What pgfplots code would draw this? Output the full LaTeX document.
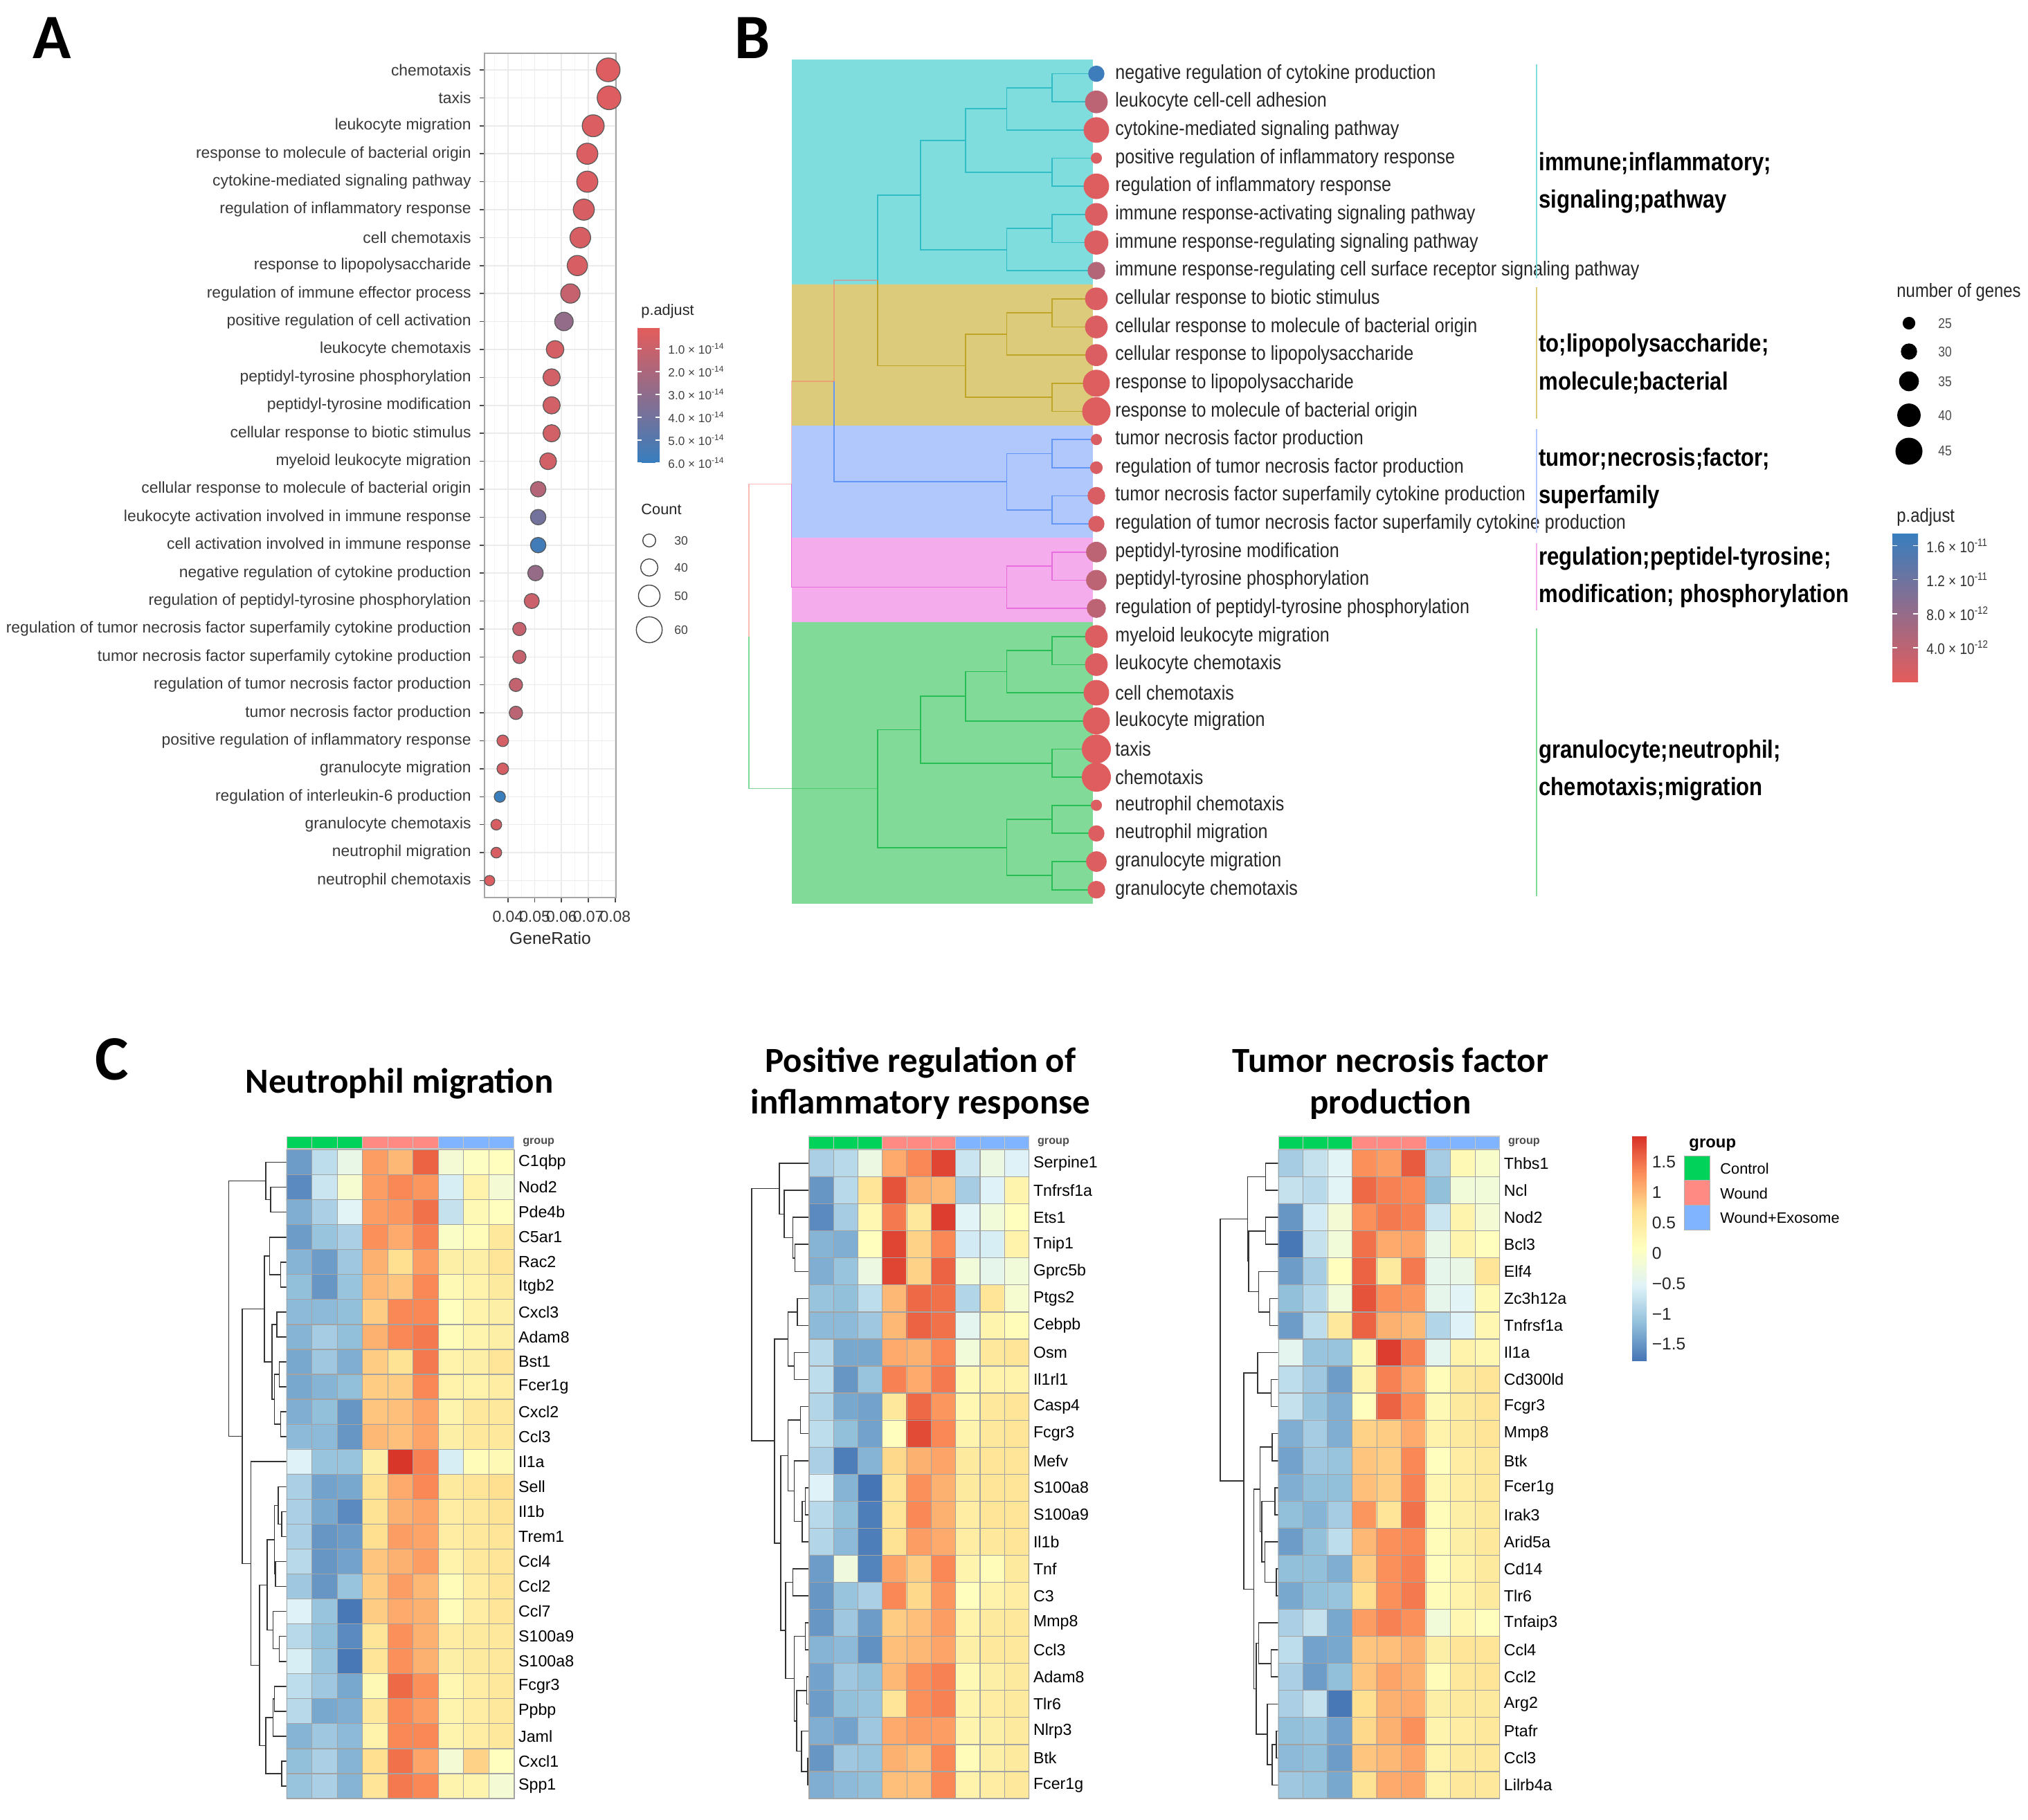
\documentclass[border=0pt]{standalone}
\usepackage{fontspec}
\setmainfont{Liberation Sans}
\newfontfamily\narrow[FakeStretch=0.86]{Liberation Sans}
\newfontfamily\carlito{Carlito}
\usepackage{pgfplots}
\pgfplotsset{compat=1.18}
\usepackage{pgfplotstable}

\definecolor{cyanbox}{RGB}{128,221,222}
\definecolor{khakibox}{RGB}{219,203,122}
\definecolor{bluebox}{RGB}{176,200,252}
\definecolor{pinkbox}{RGB}{245,172,236}
\definecolor{greenbox}{RGB}{130,218,152}
\definecolor{cyanln}{RGB}{50,188,198}
\definecolor{khakiln}{RGB}{190,165,40}
\definecolor{blueln}{RGB}{100,150,245}
\definecolor{pinkln}{RGB}{232,110,222}
\definecolor{greenln}{RGB}{40,190,85}
\definecolor{salmonln}{RGB}{248,118,109}
\definecolor{ctrl}{RGB}{0,210,90}
\definecolor{wound}{RGB}{255,138,132}
\definecolor{wexo}{RGB}{128,180,255}

\newcommand{\fs}[1]{\fontsize{#1}{#1}\selectfont}

\pgfplotsset{
  colormap={padj}{rgb255=(228,92,92) rgb255=(55,126,190)},
  colormap={heat}{rgb255=(69,117,180) rgb255=(145,191,219) rgb255=(224,243,248) rgb255=(255,255,191) rgb255=(254,224,144) rgb255=(252,141,89) rgb255=(215,48,39)},
  dendro/.style={gray!40!black, line width=0.45pt},
  heatax/.style={anchor=north west, scale only axis, height=9.375cm,
    xmin=0.5, xmax=9.5, ymin=0.5, y dir=reverse,
    xtick={1.5,2.5,...,8.5}, xticklabel=\empty, xmajorgrids, yminorgrids,
    major grid style={gray!72, line width=0.35pt},
    minor grid style={gray!72, line width=0.35pt},
    major tick length=0pt, minor tick length=0pt,
    axis line style={gray!72, line width=0.35pt}, axis on top,
    colormap name=heat, point meta min=-1.775, point meta max=1.936,
    yticklabel pos=right, yticklabel style={font=\fs{6.6}, inner sep=1.6pt},
    clip=false},
  dendax/.style={anchor=north west, scale only axis, width=0.857cm, height=9.375cm,
    ymin=0.5, y dir=reverse, hide axis, clip=false},
  cbhelper/.style={hide axis, scale only axis, width=1pt, height=1pt, colorbar,
    colorbar shift/.style={}},
}

\newcommand{\gcell}[5]{\addplot[fill=#1, draw=gray!45, line width=0.3pt] coordinates {(#2,#4) (#3,#4) (#3,#5) (#2,#5)} --cycle;}
\newcommand{\gbar}[2]{%
  \gcell{ctrl}{0.5}{1.5}{#1}{#2}\gcell{ctrl}{1.5}{2.5}{#1}{#2}\gcell{ctrl}{2.5}{3.5}{#1}{#2}%
  \gcell{wound}{3.5}{4.5}{#1}{#2}\gcell{wound}{4.5}{5.5}{#1}{#2}\gcell{wound}{5.5}{6.5}{#1}{#2}%
  \gcell{wexo}{6.5}{7.5}{#1}{#2}\gcell{wexo}{7.5}{8.5}{#1}{#2}\gcell{wexo}{8.5}{9.5}{#1}{#2}}

\begin{document}
\begin{tikzpicture}
\path[use as bounding box] (0,0) rectangle (29.3cm,-26.3cm);

%================ PANEL A =================
\begin{axis}[
  at={(7.00cm,-0.767cm)}, anchor=north west,
  scale only axis, width=1.90cm, height=12.20cm,
  xmin=0.0313, xmax=0.0803, ymin=0.4, ymax=30.6, y dir=reverse,
  scaled x ticks=false,
  xtick={0.04,0.05,0.06,0.07,0.08},
  xticklabels={0.04,0.05,0.06,0.07,0.08},
  minor xtick={0.035,0.045,0.055,0.065,0.075},
  ytick={1,...,30},
  yticklabels={chemotaxis, taxis, leukocyte migration, response to molecule of bacterial origin, cytokine-mediated signaling pathway, regulation of inflammatory response, cell chemotaxis, response to lipopolysaccharide, regulation of immune effector process, positive regulation of cell activation, leukocyte chemotaxis, peptidyl-tyrosine phosphorylation, peptidyl-tyrosine modification, cellular response to biotic stimulus, myeloid leukocyte migration, cellular response to molecule of bacterial origin, leukocyte activation involved in immune response, cell activation involved in immune response, negative regulation of cytokine production, regulation of peptidyl-tyrosine phosphorylation, regulation of tumor necrosis factor superfamily cytokine production, tumor necrosis factor superfamily cytokine production, regulation of tumor necrosis factor production, tumor necrosis factor production, positive regulation of inflammatory response, granulocyte migration, regulation of interleukin-6 production, granulocyte chemotaxis, neutrophil migration, neutrophil chemotaxis},
  grid=both, major grid style={gray!16, line width=0.45pt}, minor grid style={gray!8, line width=0.3pt},
  axis line style={gray!70, line width=0.5pt},
  tick pos=left, tick align=outside, major tick length=0.07cm, minor tick length=0pt,
  tick style={gray!60!black, line width=0.45pt},
  tick label style={font=\fs{6.5}, text=black!78},
  xlabel={GeneRatio}, xlabel style={font=\fs{7}, text=black!85, at={(axis description cs:0.5,0)}, anchor=center, yshift=-0.585cm},
  colormap name=padj, point meta min=0.05, point meta max=6,
]
\addplot[scatter, only marks, mark=*, point meta=explicit,
  scatter/use mapped color={draw=black!65, fill=mapped color},
  mark options={line width=0.35pt},
  visualization depends on={2.646+(\thisrow{count}-30)*0.0891 \as \msz},
  scatter/@pre marker code/.append style={/tikz/mark size=\msz pt}]
  table[x=ratio, y expr=\coordindex+1, meta=padj] {
ratio count padj
0.0774 55 0.30
0.0777 55 0.30
0.0718 51 0.40
0.0696 49 0.40
0.0696 49 0.40
0.0683 49 0.50
0.0670 48 0.50
0.0659 47 0.50
0.0633 45 1.10
0.0609 43 2.80
0.0576 41 0.60
0.0563 40 0.70
0.0563 40 0.70
0.0563 40 0.70
0.0550 39 0.70
0.0513 36 1.70
0.0513 36 3.90
0.0513 36 5.60
0.0503 36 2.70
0.0489 35 0.90
0.0443 31 1.10
0.0443 31 1.10
0.0430 31 1.20
0.0430 31 1.50
0.0381 27 0.60
0.0381 27 0.60
0.0370 26 5.90
0.0357 25 0.50
0.0357 25 0.50
0.0332 24 0.40
};
\end{axis}

% A colorbar
\begin{axis}[at={(9.21cm,-4.73cm)}, anchor=north west, cbhelper,
  colormap name=padj, point meta min=0.05, point meta max=6,
  colorbar style={at={(parent axis.north west)}, anchor=north west,
    width=0.32cm, height=1.96cm, y dir=reverse,
    ytick={1,2,3,4,5,6},
    yticklabels={1.0 × 10\textsuperscript{-14},2.0 × 10\textsuperscript{-14},3.0 × 10\textsuperscript{-14},4.0 × 10\textsuperscript{-14},5.0 × 10\textsuperscript{-14},6.0 × 10\textsuperscript{-14}},
    yticklabel pos=right, ytick pos=both,
    yticklabel style={font=\fs{4.9}, text=black!75},
    axis line style={draw=none}, tick align=inside, major tick length=0.06cm,
    ytick style={draw=white, line width=0.5pt}}]
\addplot[draw=none] coordinates {(0,0)};
\end{axis}

%================ PANEL B =================
\begin{axis}[
  at={(10.50cm,-0.862cm)}, anchor=north west,
  scale only axis, width=5.40cm, height=12.198cm,
  xmin=1050, xmax=1590, ymin=0.5, ymax=30.5, y dir=reverse,
  axis line style={draw=none}, xtick=\empty, ytick={1,...,30},
  yticklabels={negative regulation of cytokine production, leukocyte cell-cell adhesion, cytokine-mediated signaling pathway, positive regulation of inflammatory response, regulation of inflammatory response, immune response-activating signaling pathway, immune response-regulating signaling pathway, immune response-regulating cell surface receptor signaling pathway, cellular response to biotic stimulus, cellular response to molecule of bacterial origin, cellular response to lipopolysaccharide, response to lipopolysaccharide, response to molecule of bacterial origin, tumor necrosis factor production, regulation of tumor necrosis factor production, tumor necrosis factor superfamily cytokine production, regulation of tumor necrosis factor superfamily cytokine production, peptidyl-tyrosine modification, peptidyl-tyrosine phosphorylation, regulation of peptidyl-tyrosine phosphorylation, myeloid leukocyte migration, leukocyte chemotaxis, cell chemotaxis, leukocyte migration, taxis, chemotaxis, neutrophil chemotaxis, neutrophil migration, granulocyte migration, granulocyte chemotaxis},
  yticklabel pos=right, major tick length=0pt,
  yticklabel style={font=\narrow\fs{8.3}, xshift=0.09cm, text=black!85},
  clip=false, colormap name=padj, point meta min=0, point meta max=17.5,
]
\addplot[fill=cyanbox, draw=none] coordinates {(1143.6,0.5) (1579,0.5) (1579,8.5) (1143.6,8.5)} --cycle;
\addplot[fill=khakibox, draw=none] coordinates {(1143.6,8.5) (1579,8.5) (1579,13.5) (1143.6,13.5)} --cycle;
\addplot[fill=bluebox, draw=none] coordinates {(1143.6,13.5) (1579,13.5) (1579,17.5) (1143.6,17.5)} --cycle;
\addplot[fill=pinkbox, draw=none] coordinates {(1143.6,17.5) (1579,17.5) (1579,20.5) (1143.6,20.5)} --cycle;
\addplot[fill=greenbox, draw=none] coordinates {(1143.6,20.5) (1579,20.5) (1579,30.5) (1143.6,30.5)} --cycle;
% cyan cluster
\addplot[cyanln, line width=0.5pt] coordinates {(1584,1)(1519.7,1)(1519.7,2)(1584,2)};
\addplot[cyanln, line width=0.5pt] coordinates {(1519.7,1.5)(1454.4,1.5)(1454.4,3)(1584,3)};
\addplot[cyanln, line width=0.5pt] coordinates {(1584,4)(1519.7,4)(1519.7,5)(1584,5)};
\addplot[cyanln, line width=0.5pt] coordinates {(1584,6)(1519.7,6)(1519.7,7)(1584,7)};
\addplot[cyanln, line width=0.5pt] coordinates {(1519.7,6.5)(1454.4,6.5)(1454.4,8)(1584,8)};
\addplot[cyanln, line width=0.5pt] coordinates {(1454.4,2.25)(1395.1,2.25)(1395.1,4.5)(1519.7,4.5)};
\addplot[cyanln, line width=0.5pt] coordinates {(1395.1,3.375)(1329.9,3.375)(1329.9,7.25)(1454.4,7.25)};
% khaki cluster
\addplot[khakiln, line width=0.5pt] coordinates {(1584,9)(1519.7,9)(1519.7,10)(1584,10)};
\addplot[khakiln, line width=0.5pt] coordinates {(1519.7,9.5)(1454.4,9.5)(1454.4,11)(1584,11)};
\addplot[khakiln, line width=0.5pt] coordinates {(1584,12)(1519.7,12)(1519.7,13)(1584,13)};
\addplot[khakiln, line width=0.5pt] coordinates {(1454.4,10.25)(1395.1,10.25)(1395.1,12.5)(1519.7,12.5)};
% blue cluster
\addplot[blueln, line width=0.5pt] coordinates {(1584,14)(1519.7,14)(1519.7,15)(1584,15)};
\addplot[blueln, line width=0.5pt] coordinates {(1584,16)(1519.7,16)(1519.7,17)(1584,17)};
\addplot[blueln, line width=0.5pt] coordinates {(1519.7,14.5)(1454.4,14.5)(1454.4,16.5)(1519.7,16.5)};
% pink cluster
\addplot[pinkln, line width=0.5pt] coordinates {(1584,18)(1519.7,18)(1519.7,19)(1584,19)};
\addplot[pinkln, line width=0.5pt] coordinates {(1519.7,18.5)(1454.4,18.5)(1454.4,20)(1584,20)};
% green cluster
\addplot[greenln, line width=0.5pt] coordinates {(1584,21)(1519.7,21)(1519.7,22)(1584,22)};
\addplot[greenln, line width=0.5pt] coordinates {(1519.7,21.5)(1454.4,21.5)(1454.4,23)(1584,23)};
\addplot[greenln, line width=0.5pt] coordinates {(1454.4,22.25)(1395.1,22.25)(1395.1,24)(1584,24)};
\addplot[greenln, line width=0.5pt] coordinates {(1584,25)(1519.7,25)(1519.7,26)(1584,26)};
\addplot[greenln, line width=0.5pt] coordinates {(1395.1,23.125)(1329.9,23.125)(1329.9,25.5)(1519.7,25.5)};
\addplot[greenln, line width=0.5pt] coordinates {(1584,27)(1519.7,27)(1519.7,28)(1584,28)};
\addplot[greenln, line width=0.5pt] coordinates {(1584,29)(1519.7,29)(1519.7,30)(1584,30)};
\addplot[greenln, line width=0.5pt] coordinates {(1519.7,27.5)(1454.4,27.5)(1454.4,29.5)(1519.7,29.5)};
\addplot[greenln, line width=0.5pt] coordinates {(1329.9,24.3125)(1268.2,24.3125)(1268.2,28.5)(1454.4,28.5)};
% upper joins
\addplot[cyanln, line width=0.5pt] coordinates {(1329.9,5.3125)(1268.2,5.3125)(1268.2,8.344)};
\addplot[khakiln, line width=0.5pt] coordinates {(1268.2,8.344)(1268.2,11.375)(1395.1,11.375)};
\addplot[salmonln, draw opacity=0.5, line width=0.5pt] coordinates {(1268.2,8.344)(1205.3,8.344)(1205.3,11.922)};
\addplot[blueln, line width=0.5pt] coordinates {(1205.3,11.922)(1205.3,15.5)(1454.4,15.5)};
\addplot[salmonln, draw opacity=0.5, line width=0.5pt] coordinates {(1205.3,11.922)(1143.6,11.922)(1143.6,15.586)};
\addplot[pinkln, line width=0.5pt] coordinates {(1143.6,15.586)(1143.6,19.25)(1454.4,19.25)};
\addplot[salmonln, draw opacity=0.5, line width=0.5pt] coordinates {(1143.6,15.586)(1082,15.586)(1082,20.996)};
\addplot[greenln, draw opacity=0.6, line width=0.5pt] coordinates {(1082,20.996)(1082,26.406)(1268.2,26.406)};
% cluster side lines
\addplot[cyanbox, line width=0.5pt] coordinates {(2220,0.67)(2220,8.27)};
\addplot[khakibox, line width=0.5pt] coordinates {(2220,8.58)(2220,13.26)};
\addplot[bluebox, line width=0.5pt] coordinates {(2220,13.63)(2220,17.32)};
\addplot[pinkbox, line width=0.5pt] coordinates {(2220,17.69)(2220,20.07)};
\addplot[greenbox, line width=0.5pt] coordinates {(2220,20.71)(2220,30.23)};
% dots
\addplot[scatter, only marks, mark=*, point meta=explicit,
  scatter/use mapped color={draw=mapped color, fill=mapped color},
  visualization depends on={2.393+(\thisrow{genes}-25)*0.1477 \as \msz},
  scatter/@pre marker code/.append style={/tikz/mark size=\msz pt}]
  table[x expr=1584, y expr=\coordindex+1, meta=padj] {
genes padj
30 16.8
39 4.0
43 1.0
23 1.0
43 0.6
39 1.0
41 1.0
32 5.0
39 1.0
39 1.0
38 1.0
45 0.6
47 0.6
23 1.2
25 1.2
32 1.2
30 1.2
36 4.0
36 4.0
34 4.0
39 0.8
39 0.8
43 0.6
45 0.6
48 0.5
48 0.5
23 0.8
30 0.8
36 0.8
32 0.8
};
\end{axis}

% B colorbar
\begin{axis}[at={(27.34cm,-7.70cm)}, anchor=north west, cbhelper,
  colormap name=padj, point meta min=0, point meta max=17.5,
  colorbar style={at={(parent axis.north west)}, anchor=north west,
    width=0.37cm, height=2.15cm,
    ytick={4,8,12,16},
    yticklabels={4.0 × 10\textsuperscript{-12},8.0 × 10\textsuperscript{-12},1.2 × 10\textsuperscript{-11},1.6 × 10\textsuperscript{-11}},
    yticklabel pos=right, ytick pos=both,
    yticklabel style={font=\narrow\fs{6.3}, text=black!80},
    axis line style={draw=none}, tick align=inside, major tick length=0.07cm,
    ytick style={draw=white, line width=0.5pt}}]
\addplot[draw=none] coordinates {(0,0)};
\end{axis}

%================ PANEL C =================
% heatmap 1
\begin{axis}[dendax, at={(3.286cm,-16.615cm)}, xmin=80, xmax=320, ymax=26.5]
\addplot[dendro] coordinates {(320,2)(255,2)(255,3)(320,3)};
\addplot[dendro] coordinates {(320,1)(235,1)(235,2.5)(255,2.5)};
\addplot[dendro] coordinates {(320,5)(295,5)(295,6)(320,6)};
\addplot[dendro] coordinates {(320,4)(250,4)(250,5.5)(295,5.5)};
\addplot[dendro] coordinates {(320,7)(280,7)(280,8)(320,8)};
\addplot[dendro] coordinates {(320,9)(290,9)(290,10)(320,10)};
\addplot[dendro] coordinates {(320,11)(295,11)(295,12)(320,12)};
\addplot[dendro] coordinates {(290,9.5)(270,9.5)(270,11.5)(295,11.5)};
\addplot[dendro] coordinates {(280,7.5)(260,7.5)(260,10.5)(270,10.5)};
\addplot[dendro] coordinates {(250,4.75)(230,4.75)(230,9)(260,9)};
\addplot[dendro] coordinates {(320,15)(300,15)(300,16)(320,16)};
\addplot[dendro] coordinates {(320,14)(285,14)(285,15.5)(300,15.5)};
\addplot[dendro] coordinates {(320,17)(275,17)(275,18)(320,18)};
\addplot[dendro] coordinates {(285,14.75)(270,14.75)(270,17.5)(275,17.5)};
\addplot[dendro] coordinates {(320,20)(290,20)(290,21)(320,21)};
\addplot[dendro] coordinates {(320,19)(265,19)(265,20.5)(290,20.5)};
\addplot[dendro] coordinates {(270,16.125)(240,16.125)(240,19.75)(265,19.75)};
\addplot[dendro] coordinates {(320,22)(270,22)(270,23)(320,23)};
\addplot[dendro] coordinates {(270,22.5)(265,22.5)(265,24)(320,24)};
\addplot[dendro] coordinates {(320,25)(300,25)(300,26)(320,26)};
\addplot[dendro] coordinates {(265,23.25)(235,23.25)(235,25.5)(300,25.5)};
\addplot[dendro] coordinates {(240,17.9375)(210,17.9375)(210,24.375)(235,24.375)};
\addplot[dendro] coordinates {(320,13)(175,13)(175,21.156)(210,21.156)};
\addplot[dendro] coordinates {(230,6.875)(140,6.875)(140,17.078)(175,17.078)};
\addplot[dendro] coordinates {(235,1.75)(85,1.75)(85,11.977)(140,11.977)};
\end{axis}
\begin{axis}[heatax, at={(4.143cm,-16.615cm)}, width=3.286cm, ymax=26.5,
  ytick={1,...,26}, minor ytick={1.5,2.5,...,25.5},
  yticklabels={C1qbp,Nod2,Pde4b,C5ar1,Rac2,Itgb2,Cxcl3,Adam8,Bst1,Fcer1g,Cxcl2,Ccl3,Il1a,Sell,Il1b,Trem1,Ccl4,Ccl2,Ccl7,S100a9,S100a8,Fcgr3,Ppbp,Jaml,Cxcl1,Spp1}]
\addplot[matrix plot, mesh/cols=9, point meta=explicit] coordinates {
(1,1)[-1.45] (2,1)[-0.80] (3,1)[-0.35] (4,1)[1.20] (5,1)[1.00] (6,1)[1.60] (7,1)[-0.15] (8,1)[0.05] (9,1)[0.10]
(1,2)[-1.60] (2,2)[-0.70] (3,2)[-0.10] (4,2)[1.20] (5,2)[1.35] (6,2)[1.25] (7,2)[-0.60] (8,2)[0.35] (9,2)[-0.15]
(1,3)[-1.30] (2,3)[-0.95] (3,3)[-0.50] (4,3)[1.20] (5,3)[1.25] (6,3)[1.50] (7,3)[-0.75] (8,3)[0.20] (9,3)[0.10]
(1,4)[-1.45] (2,4)[-1.10] (3,4)[-0.95] (4,4)[1.30] (5,4)[1.10] (6,4)[1.40] (7,4)[0.00] (8,4)[0.15] (9,4)[0.55]
(1,5)[-1.25] (2,5)[-1.45] (3,5)[-1.05] (4,5)[1.05] (5,5)[0.70] (6,5)[1.20] (7,5)[0.40] (8,5)[0.40] (9,5)[0.60]
(1,6)[-1.15] (2,6)[-1.50] (3,6)[-1.10] (4,6)[1.00] (5,6)[0.90] (6,6)[1.35] (7,6)[0.20] (8,6)[0.35] (9,6)[0.50]
(1,7)[-1.20] (2,7)[-1.20] (3,7)[-1.15] (4,7)[0.85] (5,7)[1.35] (6,7)[1.35] (7,7)[0.10] (8,7)[0.35] (9,7)[0.40]
(1,8)[-1.25] (2,8)[-1.00] (3,8)[-1.15] (4,8)[1.05] (5,8)[1.35] (6,8)[1.45] (7,8)[0.15] (8,8)[0.30] (9,8)[0.40]
(1,9)[-1.35] (2,9)[-1.05] (3,9)[-1.30] (4,9)[0.85] (5,9)[0.65] (6,9)[1.45] (7,9)[0.35] (8,9)[0.40] (9,9)[0.60]
(1,10)[-1.35] (2,10)[-1.25] (3,10)[-1.15] (4,10)[0.85] (5,10)[0.85] (6,10)[1.35] (7,10)[0.35] (8,10)[0.35] (9,10)[0.45]
(1,11)[-1.30] (2,11)[-1.15] (3,11)[-1.50] (4,11)[0.90] (5,11)[0.95] (6,11)[1.15] (7,11)[0.30] (8,11)[0.55] (9,11)[0.55]
(1,12)[-1.20] (2,12)[-1.20] (3,12)[-1.50] (4,12)[1.00] (5,12)[0.95] (6,12)[1.15] (7,12)[0.40] (8,12)[0.55] (9,12)[0.55]
(1,13)[-0.55] (2,13)[-1.10] (3,13)[-1.10] (4,13)[0.40] (5,13)[1.90] (6,13)[1.40] (7,13)[-0.60] (8,13)[0.15] (9,13)[0.20]
(1,14)[-0.95] (2,14)[-1.40] (3,14)[-1.35] (4,14)[0.65] (5,14)[1.10] (6,14)[1.35] (7,14)[0.50] (8,14)[0.60] (9,14)[0.70]
(1,15)[-0.95] (2,15)[-1.35] (3,15)[-1.60] (4,15)[0.65] (5,15)[1.05] (6,15)[1.15] (7,15)[0.45] (8,15)[0.55] (9,15)[0.65]
(1,16)[-0.95] (2,16)[-1.50] (3,16)[-1.45] (4,16)[0.70] (5,16)[1.20] (6,16)[1.15] (7,16)[0.45] (8,16)[0.55] (9,16)[0.60]
(1,17)[-0.85] (2,17)[-1.50] (3,17)[-1.40] (4,17)[0.90] (5,17)[1.05] (6,17)[1.20] (7,17)[0.35] (8,17)[0.55] (9,17)[0.60]
(1,18)[-1.05] (2,18)[-1.50] (3,18)[-1.10] (4,18)[0.85] (5,18)[1.20] (6,18)[1.00] (7,18)[0.15] (8,18)[0.45] (9,18)[0.60]
(1,19)[-0.55] (2,19)[-1.10] (3,19)[-1.75] (4,19)[0.85] (5,19)[1.10] (6,19)[1.05] (7,19)[0.15] (8,19)[0.45] (9,19)[0.60]
(1,20)[-0.85] (2,20)[-1.15] (3,20)[-1.60] (4,20)[0.60] (5,20)[1.30] (6,20)[1.05] (7,20)[0.45] (8,20)[0.50] (9,20)[0.55]
(1,21)[-0.60] (2,21)[-1.10] (3,21)[-1.75] (4,21)[0.60] (5,21)[1.30] (6,21)[1.05] (7,21)[0.40] (8,21)[0.50] (9,21)[0.55]
(1,22)[-0.80] (2,22)[-1.05] (3,22)[-1.35] (4,22)[0.20] (5,22)[1.55] (6,22)[1.30] (7,22)[0.25] (8,22)[0.45] (9,22)[0.55]
(1,23)[-0.85] (2,23)[-1.35] (3,23)[-1.30] (4,23)[0.55] (5,23)[1.35] (6,23)[1.20] (7,23)[0.30] (8,23)[0.45] (9,23)[0.55]
(1,24)[-1.25] (2,24)[-1.05] (3,24)[-1.20] (4,24)[0.35] (5,24)[1.35] (6,24)[1.35] (7,24)[0.30] (8,24)[0.45] (9,24)[0.55]
(1,25)[-1.15] (2,25)[-0.95] (3,25)[-1.25] (4,25)[0.70] (5,25)[1.50] (6,25)[1.15] (7,25)[-0.15] (8,25)[0.80] (9,25)[0.10]
(1,26)[-1.10] (2,26)[-0.95] (3,26)[-1.25] (4,26)[0.60] (5,26)[1.45] (6,26)[1.35] (7,26)[0.30] (8,26)[0.30] (9,26)[-0.15]
};
\gbar{-0.04}{0.458}
\node[anchor=west, font=\fs{4.6}\bfseries, text=gray!60!black] at (axis cs:9.5,0.21) {group};
\end{axis}

% heatmap 2
\begin{axis}[dendax, at={(10.832cm,-16.615cm)}, xmin=65, xmax=305, ymax=24.5]
\addplot[dendro] coordinates {(305,4)(248,4)(248,5)(305,5)};
\addplot[dendro] coordinates {(305,3)(240,3)(240,4.5)(248,4.5)};
\addplot[dendro] coordinates {(305,2)(205,2)(205,3.75)(240,3.75)};
\addplot[dendro] coordinates {(305,1)(185,1)(185,2.875)(205,2.875)};
\addplot[dendro] coordinates {(305,6)(258,6)(258,7)(305,7)};
\addplot[dendro] coordinates {(305,8)(245,8)(245,9)(305,9)};
\addplot[dendro] coordinates {(258,6.5)(220,6.5)(220,8.5)(245,8.5)};
\addplot[dendro] coordinates {(305,10)(270,10)(270,11)(305,11)};
\addplot[dendro] coordinates {(305,13)(290,13)(290,14)(305,14)};
\addplot[dendro] coordinates {(290,13.5)(278,13.5)(278,15)(305,15)};
\addplot[dendro] coordinates {(305,12)(245,12)(245,14.25)(278,14.25)};
\addplot[dendro] coordinates {(270,10.5)(220,10.5)(220,13.125)(245,13.125)};
\addplot[dendro] coordinates {(305,16)(240,16)(240,17)(305,17)};
\addplot[dendro] coordinates {(305,18)(290,18)(290,19)(305,19)};
\addplot[dendro] coordinates {(305,20)(295,20)(295,21)(305,21)};
\addplot[dendro] coordinates {(305,23)(300,23)(300,24)(305,24)};
\addplot[dendro] coordinates {(305,22)(275,22)(275,23.5)(300,23.5)};
\addplot[dendro] coordinates {(295,20.5)(255,20.5)(255,22.75)(275,22.75)};
\addplot[dendro] coordinates {(290,18.5)(245,18.5)(245,21.625)(255,21.625)};
\addplot[dendro] coordinates {(240,16.5)(210,16.5)(210,20.06)(245,20.06)};
\addplot[dendro] coordinates {(220,11.8125)(190,11.8125)(190,18.28)(210,18.28)};
\addplot[dendro] coordinates {(220,7.5)(165,7.5)(165,15.047)(190,15.047)};
\addplot[dendro] coordinates {(185,1.9375)(72,1.9375)(72,11.27)(165,11.27)};
\end{axis}
\begin{axis}[heatax, at={(11.689cm,-16.615cm)}, width=3.178cm, ymax=24.5,
  ytick={1,...,24}, minor ytick={1.5,2.5,...,23.5},
  yticklabels={Serpine1,Tnfrsf1a,Ets1,Tnip1,Gprc5b,Ptgs2,Cebpb,Osm,Il1rl1,Casp4,Fcgr3,Mefv,S100a8,S100a9,Il1b,Tnf,C3,Mmp8,Ccl3,Adam8,Tlr6,Nlrp3,Btk,Fcer1g}]
\addplot[matrix plot, mesh/cols=9, point meta=explicit] coordinates {
(1,1)[-0.95] (2,1)[-0.85] (3,1)[-0.30] (4,1)[1.10] (5,1)[1.35] (6,1)[1.80] (7,1)[-0.70] (8,1)[-0.30] (9,1)[-0.55]
(1,2)[-1.50] (2,2)[-0.85] (3,2)[0.60] (4,2)[1.70] (5,2)[1.05] (6,2)[1.00] (7,2)[-1.00] (8,2)[-0.55] (9,2)[0.30]
(1,3)[-1.60] (2,3)[-1.00] (3,3)[0.25] (4,3)[1.45] (5,3)[0.55] (6,3)[1.85] (7,3)[-0.50] (8,3)[-0.20] (9,3)[0.10]
(1,4)[-1.25] (2,4)[-1.30] (3,4)[0.10] (4,4)[1.80] (5,4)[0.80] (6,4)[1.35] (7,4)[-0.65] (8,4)[-0.60] (9,4)[0.35]
(1,5)[-1.30] (2,5)[-1.10] (3,5)[-0.30] (4,5)[1.80] (5,5)[0.80] (6,5)[1.60] (7,5)[-0.20] (8,5)[-0.40] (9,5)[-0.20]
(1,6)[-1.10] (2,6)[-1.15] (3,6)[-0.80] (4,6)[1.00] (5,6)[1.55] (6,6)[1.50] (7,6)[-0.90] (8,6)[0.60] (9,6)[-0.10]
(1,7)[-1.20] (2,7)[-1.20] (3,7)[-1.05] (4,7)[1.00] (5,7)[1.60] (6,7)[1.50] (7,7)[-0.45] (8,7)[0.30] (9,7)[0.15]
(1,8)[-0.85] (2,8)[-1.35] (3,8)[-1.35] (4,8)[1.10] (5,8)[1.05] (6,8)[1.35] (7,8)[-0.20] (8,8)[0.55] (9,8)[0.60]
(1,9)[-0.80] (2,9)[-1.50] (3,9)[-1.10] (4,9)[1.40] (5,9)[1.10] (6,9)[1.45] (7,9)[0.20] (8,9)[0.35] (9,9)[0.35]
(1,10)[-0.90] (2,10)[-1.35] (3,10)[-1.40] (4,10)[0.55] (5,10)[1.55] (6,10)[1.25] (7,10)[0.25] (8,10)[0.55] (9,10)[0.60]
(1,11)[-0.80] (2,11)[-1.15] (3,11)[-1.40] (4,11)[0.10] (5,11)[1.75] (6,11)[1.35] (7,11)[0.30] (8,11)[0.55] (9,11)[0.60]
(1,12)[-0.95] (2,12)[-1.70] (3,12)[-1.25] (4,12)[0.75] (5,12)[1.05] (6,12)[1.15] (7,12)[0.50] (8,12)[0.60] (9,12)[0.60]
(1,13)[-0.55] (2,13)[-1.25] (3,13)[-1.80] (4,13)[0.60] (5,13)[1.30] (6,13)[1.05] (7,13)[0.50] (8,13)[0.60] (9,13)[0.60]
(1,14)[-0.85] (2,14)[-1.15] (3,14)[-1.70] (4,14)[0.60] (5,14)[1.35] (6,14)[1.05] (7,14)[0.45] (8,14)[0.60] (9,14)[0.60]
(1,15)[-0.90] (2,15)[-1.20] (3,15)[-1.70] (4,15)[0.65] (5,15)[1.20] (6,15)[1.10] (7,15)[0.45] (8,15)[0.55] (9,15)[0.60]
(1,16)[-1.45] (2,16)[-0.25] (3,16)[-1.65] (4,16)[1.15] (5,16)[0.85] (6,16)[1.35] (7,16)[0.30] (8,16)[0.15] (9,16)[0.50]
(1,17)[-1.50] (2,17)[-1.10] (3,17)[-0.95] (4,17)[1.35] (5,17)[0.75] (6,17)[1.25] (7,17)[0.10] (8,17)[0.35] (9,17)[0.45]
(1,18)[-1.50] (2,18)[-1.05] (3,18)[-1.45] (4,18)[0.85] (5,18)[0.95] (6,18)[1.20] (7,18)[0.35] (8,18)[0.50] (9,18)[0.55]
(1,19)[-1.25] (2,19)[-1.20] (3,19)[-1.55] (4,19)[0.95] (5,19)[1.00] (6,19)[1.15] (7,19)[0.40] (8,19)[0.55] (9,19)[0.55]
(1,20)[-1.40] (2,20)[-1.05] (3,20)[-1.15] (4,20)[1.00] (5,20)[1.30] (6,20)[1.40] (7,20)[0.20] (8,20)[0.40] (9,20)[0.50]
(1,21)[-1.45] (2,21)[-1.15] (3,21)[-1.10] (4,21)[0.60] (5,21)[1.30] (6,21)[1.40] (7,21)[0.30] (8,21)[0.45] (9,21)[0.50]
(1,22)[-1.30] (2,22)[-1.40] (3,22)[-1.05] (4,22)[1.10] (5,22)[1.20] (6,22)[1.20] (7,22)[0.30] (8,22)[0.40] (9,22)[0.50]
(1,23)[-1.50] (2,23)[-1.05] (3,23)[-1.10] (4,23)[1.05] (5,23)[0.95] (6,23)[1.35] (7,23)[0.15] (8,23)[0.40] (9,23)[0.50]
(1,24)[-1.30] (2,24)[-1.20] (3,24)[-1.15] (4,24)[0.95] (5,24)[0.95] (6,24)[1.35] (7,24)[0.35] (8,24)[0.45] (9,24)[0.55]
};
\gbar{0.0}{0.462}
\node[anchor=west, font=\fs{4.6}\bfseries, text=gray!60!black] at (axis cs:9.5,0.23) {group};
\end{axis}

% heatmap 3
\begin{axis}[dendax, at={(17.614cm,-16.615cm)}, xmin=60, xmax=300, ymax=24.5]
\addplot[dendro] coordinates {(300,1)(248,1)(248,2)(300,2)};
\addplot[dendro] coordinates {(300,3)(248,3)(248,4)(300,4)};
\addplot[dendro] coordinates {(300,6)(265,6)(265,7)(300,7)};
\addplot[dendro] coordinates {(300,5)(220,5)(220,6.5)(265,6.5)};
\addplot[dendro] coordinates {(248,3.5)(180,3.5)(180,5.75)(220,5.75)};
\addplot[dendro] coordinates {(248,1.5)(175,1.5)(175,4.625)(180,4.625)};
\addplot[dendro] coordinates {(300,9)(270,9)(270,10)(300,10)};
\addplot[dendro] coordinates {(300,8)(215,8)(215,9.5)(270,9.5)};
\addplot[dendro] coordinates {(300,11)(275,11)(275,12)(300,12)};
\addplot[dendro] coordinates {(300,13)(285,13)(285,14)(300,14)};
\addplot[dendro] coordinates {(300,16)(292,16)(292,17)(300,17)};
\addplot[dendro] coordinates {(300,15)(245,15)(245,16.5)(292,16.5)};
\addplot[dendro] coordinates {(285,13.5)(232,13.5)(232,15.75)(245,15.75)};
\addplot[dendro] coordinates {(275,11.5)(225,11.5)(225,14.625)(232,14.625)};
\addplot[dendro] coordinates {(300,19)(270,19)(270,20)(300,20)};
\addplot[dendro] coordinates {(300,18)(220,18)(220,19.5)(270,19.5)};
\addplot[dendro] coordinates {(300,22)(292,22)(292,23)(300,23)};
\addplot[dendro] coordinates {(292,22.5)(275,22.5)(275,24)(300,24)};
\addplot[dendro] coordinates {(300,21)(255,21)(255,23.25)(275,23.25)};
\addplot[dendro] coordinates {(220,18.75)(210,18.75)(210,22.125)(255,22.125)};
\addplot[dendro] coordinates {(225,13.0625)(200,13.0625)(200,20.4375)(210,20.4375)};
\addplot[dendro] coordinates {(215,8.75)(160,8.75)(160,16.75)(200,16.75)};
\addplot[dendro] coordinates {(175,3.0625)(65,3.0625)(65,12.75)(160,12.75)};
\end{axis}
\begin{axis}[heatax, at={(18.471cm,-16.615cm)}, width=3.195cm, ymax=24.5,
  ytick={1,...,24}, minor ytick={1.5,2.5,...,23.5},
  yticklabels={Thbs1,Ncl,Nod2,Bcl3,Elf4,Zc3h12a,Tnfrsf1a,Il1a,Cd300ld,Fcgr3,Mmp8,Btk,Fcer1g,Irak3,Arid5a,Cd14,Tlr6,Tnfaip3,Ccl4,Ccl2,Arg2,Ptafr,Ccl3,Lilrb4a}]
\addplot[matrix plot, mesh/cols=9, point meta=explicit] coordinates {
(1,1)[-1.00] (2,1)[-0.75] (3,1)[-0.50] (4,1)[1.30] (5,1)[1.20] (6,1)[1.65] (7,1)[-1.00] (8,1)[0.20] (9,1)[-0.05]
(1,2)[-0.75] (2,2)[-0.85] (3,2)[-0.50] (4,2)[1.55] (5,2)[1.40] (6,2)[1.35] (7,2)[-1.15] (8,2)[-0.20] (9,2)[-0.20]
(1,3)[-1.50] (2,3)[-0.65] (3,3)[-0.15] (4,3)[1.30] (5,3)[1.45] (6,3)[1.40] (7,3)[-0.70] (8,3)[0.30] (9,3)[-0.15]
(1,4)[-1.75] (2,4)[-0.75] (3,4)[-0.20] (4,4)[1.50] (5,4)[1.10] (6,4)[1.15] (7,4)[-0.35] (8,4)[0.30] (9,4)[0.10]
(1,5)[-1.45] (2,5)[-1.00] (3,5)[0.10] (4,5)[1.60] (5,5)[0.50] (6,5)[1.45] (7,5)[-0.40] (8,5)[-0.35] (9,5)[0.60]
(1,6)[-1.15] (2,6)[-0.90] (3,6)[-0.20] (4,6)[1.70] (5,6)[1.30] (6,6)[1.25] (7,6)[-0.40] (8,6)[-0.50] (9,6)[0.20]
(1,7)[-1.45] (2,7)[-0.80] (3,7)[0.55] (4,7)[1.60] (5,7)[1.05] (6,7)[1.00] (7,7)[-0.90] (8,7)[-0.55] (9,7)[0.25]
(1,8)[-0.45] (2,8)[-1.10] (3,8)[-1.10] (4,8)[0.20] (5,8)[1.85] (6,8)[1.40] (7,8)[-0.45] (8,8)[0.35] (9,8)[0.25]
(1,9)[-0.80] (2,9)[-1.05] (3,9)[-1.45] (4,9)[0.30] (5,9)[1.40] (6,9)[1.15] (7,9)[0.15] (8,9)[0.50] (9,9)[0.60]
(1,10)[-0.75] (2,10)[-1.10] (3,10)[-1.30] (4,10)[0.10] (5,10)[1.60] (6,10)[1.30] (7,10)[0.20] (8,10)[0.50] (9,10)[0.60]
(1,11)[-1.30] (2,11)[-1.00] (3,11)[-1.30] (4,11)[0.80] (5,11)[0.85] (6,11)[1.10] (7,11)[0.35] (8,11)[0.50] (9,11)[0.60]
(1,12)[-1.40] (2,12)[-1.05] (3,12)[-1.10] (4,12)[0.90] (5,12)[0.85] (6,12)[1.35] (7,12)[0.10] (8,12)[0.45] (9,12)[0.55]
(1,13)[-1.30] (2,13)[-1.15] (3,13)[-1.15] (4,13)[0.95] (5,13)[0.85] (6,13)[1.40] (7,13)[0.25] (8,13)[0.45] (9,13)[0.55]
(1,14)[-1.15] (2,14)[-1.25] (3,14)[-1.00] (4,14)[1.25] (5,14)[0.60] (6,14)[1.50] (7,14)[0.15] (8,14)[0.40] (9,14)[0.50]
(1,15)[-1.45] (2,15)[-1.15] (3,15)[-0.80] (4,15)[1.00] (5,15)[1.30] (6,15)[1.35] (7,15)[0.15] (8,15)[0.40] (9,15)[0.55]
(1,16)[-1.15] (2,16)[-1.15] (3,16)[-1.30] (4,16)[0.85] (5,16)[1.30] (6,16)[1.40] (7,16)[0.10] (8,16)[0.35] (9,16)[0.50]
(1,17)[-1.35] (2,17)[-1.15] (3,17)[-1.10] (4,17)[0.70] (5,17)[1.30] (6,17)[1.45] (7,17)[0.15] (8,17)[0.35] (9,17)[0.50]
(1,18)[-0.95] (2,18)[-0.75] (3,18)[-1.35] (4,18)[1.20] (5,18)[1.40] (6,18)[1.30] (7,18)[-0.20] (8,18)[0.25] (9,18)[0.10]
(1,19)[-0.80] (2,19)[-1.40] (3,19)[-1.35] (4,19)[0.90] (5,19)[0.95] (6,19)[1.05] (7,19)[0.40] (8,19)[0.60] (9,19)[0.60]
(1,20)[-0.95] (2,20)[-1.45] (3,20)[-1.15] (4,20)[0.90] (5,20)[1.15] (6,20)[1.05] (7,20)[0.15] (8,20)[0.55] (9,20)[0.60]
(1,21)[-0.95] (2,21)[-0.75] (3,21)[-1.75] (4,21)[0.70] (5,21)[1.05] (6,21)[1.10] (7,21)[0.40] (8,21)[0.50] (9,21)[0.50]
(1,22)[-1.15] (2,22)[-1.10] (3,22)[-1.40] (4,22)[0.75] (5,22)[1.05] (6,22)[1.30] (7,22)[0.30] (8,22)[0.45] (9,22)[0.55]
(1,23)[-1.20] (2,23)[-1.15] (3,23)[-1.45] (4,23)[0.90] (5,23)[1.00] (6,23)[1.15] (7,23)[0.35] (8,23)[0.50] (9,23)[0.55]
(1,24)[-1.05] (2,24)[-1.10] (3,24)[-1.35] (4,24)[0.65] (5,24)[1.10] (6,24)[1.15] (7,24)[0.35] (8,24)[0.55] (9,24)[0.55]
};
\gbar{0.0}{0.462}
\node[anchor=west, font=\fs{4.6}\bfseries, text=gray!60!black] at (axis cs:9.5,0.23) {group};
\end{axis}

% C colorbar
\begin{axis}[at={(23.58cm,-16.41cm)}, anchor=north west, cbhelper,
  colormap name=heat, point meta min=-1.775, point meta max=1.936,
  colorbar style={at={(parent axis.north west)}, anchor=north west,
    width=0.21cm, height=3.255cm,
    ytick={-1.5,-1,-0.5,0,0.5,1,1.5},
    yticklabels={−1.5,−1,−0.5,0,0.5,1,1.5},
    yticklabel pos=right,
    yticklabel style={font=\fs{7}, text=black!85, inner sep=2pt},
    axis line style={draw=none}, major tick length=0pt}]
\addplot[draw=none] coordinates {(0,0)};
\end{axis}

%================ OVERLAY: letters, titles, legends =================
\begin{axis}[at={(0,0)}, anchor=north west, scale only axis,
  width=29.3cm, height=26.3cm, xmin=0, xmax=2930, ymin=0, ymax=2630,
  y dir=reverse, hide axis, clip=false]
\node[anchor=base west, font=\carlito\bfseries\fs{26}] at (axis cs:35,84) {A};
\node[anchor=base west, font=\carlito\bfseries\fs{26}] at (axis cs:1049,84) {B};
\node[anchor=base west, font=\carlito\bfseries\fs{26}] at (axis cs:125,1560) {C};
\node[anchor=base, font=\carlito\bfseries\fs{14.5}] at (axis cs:577,1579) {Neutrophil migration};
\node[anchor=base, font=\carlito\bfseries\fs{14.5}] at (axis cs:1330,1549) {Positive regulation of};
\node[anchor=base, font=\carlito\bfseries\fs{14.5}] at (axis cs:1330,1609) {inflammatory response};
\node[anchor=base, font=\carlito\bfseries\fs{14.5}] at (axis cs:2009,1549) {Tumor necrosis factor};
\node[anchor=base, font=\carlito\bfseries\fs{14.5}] at (axis cs:2009,1609) {production};
% B cluster labels
\node[anchor=west, font=\narrow\bfseries\fs{10.3}] at (axis cs:2211,237) {immune;inflammatory;};
\node[anchor=west, font=\narrow\bfseries\fs{10.3}] at (axis cs:2211,291) {signaling;pathway};
\node[anchor=west, font=\narrow\bfseries\fs{10.3}] at (axis cs:2211,499) {to;lipopolysaccharide;};
\node[anchor=west, font=\narrow\bfseries\fs{10.3}] at (axis cs:2211,553) {molecule;bacterial};
\node[anchor=west, font=\narrow\bfseries\fs{10.3}] at (axis cs:2211,663) {tumor;necrosis;factor;};
\node[anchor=west, font=\narrow\bfseries\fs{10.3}] at (axis cs:2211,718) {superfamily};
\node[anchor=west, font=\narrow\bfseries\fs{10.3}] at (axis cs:2211,807) {regulation;peptidel-tyrosine;};
\node[anchor=west, font=\narrow\bfseries\fs{10.3}] at (axis cs:2211,861) {modification; phosphorylation};
\node[anchor=west, font=\narrow\bfseries\fs{10.3}] at (axis cs:2211,1086) {granulocyte;neutrophil;};
\node[anchor=west, font=\narrow\bfseries\fs{10.3}] at (axis cs:2211,1140) {chemotaxis;migration};
% A legend
\node[anchor=west, font=\fs{6.2}, text=black!85] at (axis cs:914,450) {p.adjust};
\node[anchor=west, font=\fs{6.2}, text=black!85] at (axis cs:914,736) {Count};
\addplot[scatter, only marks, mark=*, point meta=explicit,
  scatter/use mapped color={draw=gray!55!black, fill=white},
  mark options={line width=0.4pt},
  visualization depends on={2.646+(\thisrow{c}-30)*0.0891 \as \msz},
  scatter/@pre marker code/.append style={/tikz/mark size=\msz pt}]
  table[x=x, y=y, meta=c] {
x y c
938 781 30
938 820 40
938 861 50
938 910 60
};
\node[anchor=west, font=\fs{5}, text=black!75] at (axis cs:962,781) {30};
\node[anchor=west, font=\fs{5}, text=black!75] at (axis cs:962,820) {40};
\node[anchor=west, font=\fs{5}, text=black!75] at (axis cs:962,861) {50};
\node[anchor=west, font=\fs{5}, text=black!75] at (axis cs:962,910) {60};
% B legend
\node[anchor=west, font=\narrow\fs{7.9}, text=black!85] at (axis cs:2728,422) {number of genes};
\addplot[scatter, only marks, mark=*, point meta=explicit,
  scatter/use mapped color={draw=black, fill=black},
  visualization depends on={2.393+(\thisrow{g}-25)*0.1477 \as \msz},
  scatter/@pre marker code/.append style={/tikz/mark size=\msz pt}]
  table[x=x, y=y, meta=g] {
x y g
2758 467 25
2758 508 30
2758 551 35
2758 600 40
2758 652 45
};
\node[anchor=west, font=\narrow\fs{5.8}, text=black!70] at (axis cs:2788,467) {25};
\node[anchor=west, font=\narrow\fs{5.8}, text=black!70] at (axis cs:2788,508) {30};
\node[anchor=west, font=\narrow\fs{5.8}, text=black!70] at (axis cs:2788,551) {35};
\node[anchor=west, font=\narrow\fs{5.8}, text=black!70] at (axis cs:2788,600) {40};
\node[anchor=west, font=\narrow\fs{5.8}, text=black!70] at (axis cs:2788,652) {45};
\node[anchor=west, font=\narrow\fs{7.9}, text=black!85] at (axis cs:2728,747) {p.adjust};
% C legend
\node[anchor=west, font=\fs{6.8}\bfseries] at (axis cs:2428,1655) {group};
\addplot[fill=ctrl, draw=gray!60, line width=0.3pt] coordinates {(2433,1670) (2470,1670) (2470,1705.6) (2433,1705.6)} --cycle;
\addplot[fill=wound, draw=gray!60, line width=0.3pt] coordinates {(2433,1705.6) (2470,1705.6) (2470,1741) (2433,1741)} --cycle;
\addplot[fill=wexo, draw=gray!60, line width=0.3pt] coordinates {(2433,1741) (2470,1741) (2470,1777) (2433,1777)} --cycle;
\node[anchor=west, font=\fs{6.2}] at (axis cs:2473,1688.7) {Control};
\node[anchor=west, font=\fs{6.2}] at (axis cs:2473,1724.4) {Wound};
\node[anchor=west, font=\fs{6.2}] at (axis cs:2473,1759.5) {Wound+Exosome};
\end{axis}
\end{tikzpicture}
\end{document}
